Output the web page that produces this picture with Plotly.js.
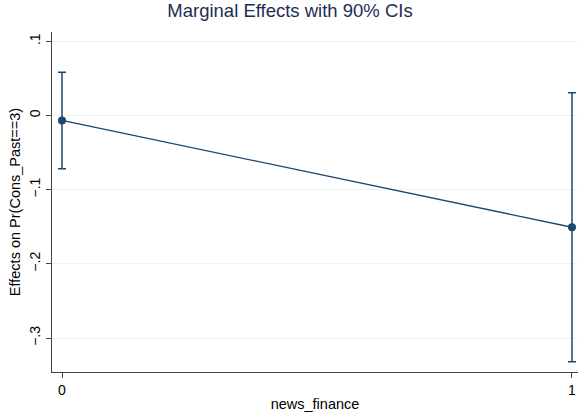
<!DOCTYPE html>
<html>
<head>
<meta charset="utf-8">
<script src="https://cdn.plot.ly/plotly-3.0.1.min.js"></script>
<style>html,body{margin:0;padding:0;background:#fff;}#chart{width:580px;height:419px;}</style>
</head>
<body>
<div id="chart"></div>
<script>
var newsFinance = [0, 1];
var margins = [-0.0067, -0.1507];
var ciLower = [-0.0717, -0.332];
var ciUpper = [0.0583, 0.0306];
var yTickVals = [0.1, 0, -0.1, -0.2, -0.3];
var yTickText = ['.1', '0', '\u2212.1', '\u2212.2', '\u2212.3'];
var xTickVals = [0, 1];
var xTickText = ['0', '1'];

var errPlus = margins.map(function(m, i){ return ciUpper[i] - m; });
var errMinus = margins.map(function(m, i){ return m - ciLower[i]; });

var navy = '#1a476f';
var trace = {
  x: newsFinance,
  y: margins,
  type: 'scatter',
  mode: 'lines+markers',
  line: {color: navy, width: 1.3},
  marker: {color: navy, size: 8},
  error_y: {type: 'data', symmetric: false, array: errPlus, arrayminus: errMinus,
            color: navy, thickness: 1.5, width: 4},
  hoverinfo: 'none',
  showlegend: false
};

var layout = {
  width: 580, height: 419,
  margin: {l: 52, r: 2, t: 32, b: 47},
  paper_bgcolor: '#ffffff',
  plot_bgcolor: '#ffffff',
  font: {family: 'Liberation Sans, Arial, sans-serif', size: 13, color: '#000'},
  title: {text: 'Marginal Effects with 90% CIs', font: {size: 18.5, color: '#1e2d53'},
          x: 0.5, xanchor: 'center', y: 0.99, yanchor: 'top'},
  xaxis: {
    range: [-0.0196, 1.0118],
    tickvals: xTickVals, ticktext: xTickText,
    ticks: 'outside', ticklen: 5, tickcolor: '#444', tickwidth: 1,
    showline: true, linecolor: '#444', linewidth: 1,
    showgrid: false, zeroline: false,
    tickfont: {size: 14, color: '#000'},
    title: {text: 'news_finance', font: {size: 14.5, color: '#000'}, standoff: 2}
  },
  yaxis: {
    range: [-0.3458, 0.1125],
    tickvals: yTickVals, ticktext: yTickText, tickangle: -90,
    ticks: 'outside', ticklen: 5, tickcolor: '#444', tickwidth: 1,
    showline: true, linecolor: '#444', linewidth: 1,
    showgrid: true, gridcolor: '#eaf2f3', gridwidth: 1,
    zeroline: false,
    tickfont: {size: 14, color: '#000'},
    title: {text: 'Effects on Pr(Cons_Past==3)', font: {size: 14.5, color: '#000'}, standoff: 3}
  }
};

Plotly.newPlot('chart', [trace], layout, {displayModeBar: false, staticPlot: true});
</script>
</body>
</html>
